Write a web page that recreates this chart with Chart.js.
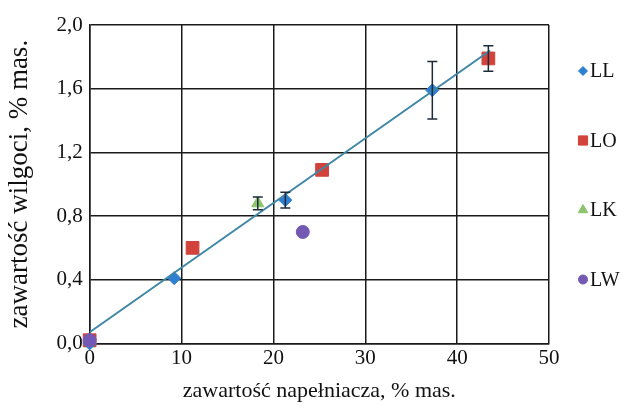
<!DOCTYPE html>
<html>
<head>
<meta charset="utf-8">
<script src="https://cdn.jsdelivr.net/npm/chart.js@4"></script>
<style>
  body { margin: 0; background: #fff; }
</style>
</head>
<body>
<canvas id="wykres" width="625" height="412"></canvas>
<script>
// zawartosc napelniacza [% mas.] i wilgoci [% mas.] dla serii
const llX = [0, 9.2, 21.3, 37.3];
const llY = [0, 0.41, 0.90, 1.59];
const llErr = [0, 0, 0.05, 0.18];

const loX = [0, 11.2, 25.3, 43.4];
const loY = [0.02, 0.60, 1.09, 1.79];
const loErr = [0, 0, 0, 0.08];

const lkX = [0, 18.3];
const lkY = [0, 0.88];
const lkErr = [0, 0.04];

const lwX = [0, 23.2];
const lwY = [0.02, 0.70];
const lwErr = [0, 0];

// linia trendu
const trendX = [0, 43.6];
const trendY = [0.07, 1.84];

const xTicks = [0, 10, 20, 30, 40, 50];
const yTicks = [0, 0.4, 0.8, 1.2, 1.6, 2.0];

const pary = (xs, ys) => xs.map((x, i) => ({ x: x, y: ys[i] }));
const serif = 'Liberation Serif';

// slupki bledow rysowane na skalach wykresu
const slupkiBledow = {
  id: 'slupkiBledow',
  afterDatasetsDraw(chart) {
    const ctx = chart.ctx;
    const sx = chart.scales.x, sy = chart.scales.y;
    chart.data.datasets.forEach(ds => {
      if (!ds.bledy) return;
      ds.data.forEach((p, i) => {
        const e = ds.bledy[i];
        if (!e) return;
        const px = sx.getPixelForValue(p.x);
        const top = sy.getPixelForValue(p.y + e);
        const bot = sy.getPixelForValue(p.y - e);
        ctx.save();
        ctx.strokeStyle = '#1c2b3a';
        ctx.lineWidth = 1.5;
        ctx.beginPath();
        ctx.moveTo(px, top); ctx.lineTo(px, bot);
        ctx.moveTo(px - 5, top); ctx.lineTo(px + 5, top);
        ctx.moveTo(px - 5, bot); ctx.lineTo(px + 5, bot);
        ctx.stroke();
        ctx.restore();
      });
    });
  }
};

// legenda po prawej stronie obszaru wykresu
const legenda = {
  id: 'legenda',
  afterDraw(chart) {
    const ctx = chart.ctx;
    const area = chart.chartArea;
    const serie = chart.data.datasets.filter(ds => ds.bledy);
    serie.forEach((ds, i) => {
      const x = area.right + 34;
      const y = area.top + 46 + i * 69.5;
      ctx.save();
      ctx.fillStyle = ds.backgroundColor;
      ctx.strokeStyle = ds.backgroundColor;
      Chart.helpers.drawPoint(ctx, {
        pointStyle: ds.pointStyle, radius: ds.legendRadius, borderWidth: 1, rotation: 0
      }, x, y);
      ctx.fillStyle = '#111';
      ctx.font = '20px ' + serif;
      ctx.textBaseline = 'middle';
      ctx.fillText(ds.label, x + 7, y + 1);
      ctx.restore();
    });
  }
};

new Chart(document.getElementById('wykres'), {
  type: 'scatter',
  data: {
    datasets: [
      {
        label: 'LL', data: pary(llX, llY), bledy: llErr,
        pointStyle: 'rectRot', pointRadius: 6.5, legendRadius: 4.5,
        backgroundColor: '#2f7fd0', borderColor: '#2f7fd0', order: 2, clip: false
      },
      {
        label: 'LO', data: pary(loX, loY), bledy: loErr,
        pointStyle: 'rect', pointRadius: 9, legendRadius: 6.5,
        backgroundColor: '#d2433c', borderColor: '#d2433c', order: 3, clip: false
      },
      {
        label: 'LK', data: pary(lkX, lkY), bledy: lkErr,
        pointStyle: 'triangle', pointRadius: 7, legendRadius: 5.5,
        backgroundColor: '#8cc46c', borderColor: '#8cc46c', order: 4, clip: false
      },
      {
        label: 'LW', data: pary(lwX, lwY), bledy: lwErr,
        pointStyle: 'circle', pointRadius: 6.5, legendRadius: 4.5,
        backgroundColor: '#7358b4', borderColor: '#7358b4', order: 1, clip: false
      },
      {
        type: 'line', label: 'trend', data: pary(trendX, trendY),
        borderColor: '#3f87a6', borderWidth: 2, pointRadius: 0,
        fill: false, order: 0
      }
    ]
  },
  options: {
    responsive: false,
    animation: false,
    layout: { padding: { top: 25, right: 76, bottom: 8, left: 0 } },
    plugins: {
      tooltip: { enabled: false },
      legend: { display: false }
    },
    scales: {
      x: {
        type: 'linear', min: 0, max: 50,
        afterBuildTicks: s => { s.ticks = xTicks.map(v => ({ value: v })); },
        ticks: {
          color: '#111', padding: 2,
          font: { family: serif, size: 21 },
          callback: v => String(v)
        },
        grid: { color: '#1a1a1a', lineWidth: 1.5, drawTicks: false },
        border: { color: '#1a1a1a', width: 1.5 },
        title: {
          display: true, text: 'zawartość napełniacza, % mas.',
          color: '#111', font: { family: serif, size: 22 }, padding: { top: 5, bottom: 0 }
        }
      },
      y: {
        type: 'linear', min: 0, max: 2,
        afterBuildTicks: s => { s.ticks = yTicks.map(v => ({ value: v })); },
        ticks: {
          color: '#111', padding: 7,
          font: { family: serif, size: 21 },
          callback: v => v.toFixed(1).replace('.', ',')
        },
        grid: { color: '#1a1a1a', lineWidth: 1.5, drawTicks: false },
        border: { color: '#1a1a1a', width: 1.5 },
        title: {
          display: true, text: 'zawartość wilgoci, % mas.',
          color: '#111', font: { family: serif, size: 27 }, padding: { top: 4, bottom: 13 }
        }
      }
    }
  },
  plugins: [slupkiBledow, legenda]
});
</script>
</body>
</html>
